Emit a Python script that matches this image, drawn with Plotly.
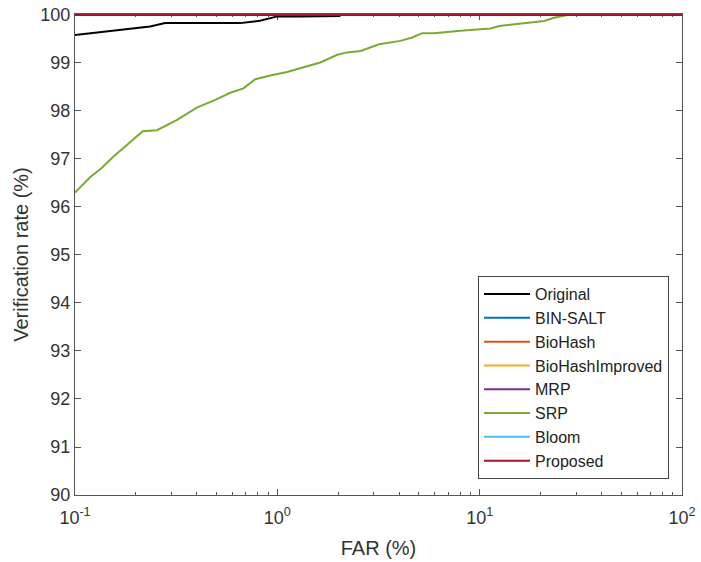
import plotly.graph_objects as go

# ---- data ----
far_original = [0.1, 0.15, 0.235, 0.279, 0.45, 0.656, 0.82, 1.0, 1.3, 2.05]
vr_original = [99.58, 99.66, 99.76, 99.83, 99.83, 99.83, 99.88, 99.97, 99.97, 99.98]

far_srp = [0.1, 0.1187, 0.1355, 0.155, 0.177, 0.216, 0.254, 0.318, 0.40, 0.50, 0.585, 0.68,
           0.778, 0.923, 1.117, 1.35, 1.63, 1.98, 2.21, 2.58, 3.18, 4.06, 4.64, 5.2, 5.94,
           8.05, 11.3, 12.5, 16.6, 20.8, 23.3, 27.2]
vr_srp = [96.30, 96.62, 96.81, 97.05, 97.26, 97.58, 97.60, 97.81, 98.07, 98.24, 98.38, 98.47,
          98.66, 98.74, 98.81, 98.91, 99.01, 99.17, 99.22, 99.25, 99.39, 99.46, 99.53, 99.62, 99.62,
          99.67, 99.72, 99.77, 99.83, 99.875, 99.94, 100.0]

far_flat = [0.1, 100]
vr_flat = [100, 100]

methods = ["Original", "BIN-SALT", "BioHash", "BioHashImproved", "MRP", "SRP", "Bloom", "Proposed"]
colors = ["#000000", "#0072BD", "#D95319", "#EDB120", "#7E2F8E", "#77AC30", "#4DBEEE", "#A2142F"]

x_tickvals = [0.1, 1, 10, 100]
x_ticktext = ["10<sup>-1</sup>", "10<sup>0</sup>", "10<sup>1</sup>", "10<sup>2</sup>"]
x_minor_vals = [m * d for d in (0.1, 1, 10) for m in range(2, 10)]
y_tickvals = list(range(90, 101))

series = {
    "Original": (far_original, vr_original),
    "SRP": (far_srp, vr_srp),
}

fig = go.Figure()
for name, col in zip(methods, colors):
    xs, ys = series.get(name, (far_flat, vr_flat))
    fig.add_trace(go.Scatter(x=xs, y=ys, mode="lines", name=name,
                             line=dict(color=col, width=2)))

axis_col = "#555555"
font_fam = "Liberation Sans, Arial, sans-serif"

fig.update_layout(
    width=701, height=562,
    margin=dict(l=75, r=19, t=14, b=67, autoexpand=False),
    paper_bgcolor="white", plot_bgcolor="white",
    font=dict(family=font_fam, color="#333333", size=18),
    showlegend=True,
    legend=dict(x=0.9786, y=0.033, xanchor="right", yanchor="bottom",
                bgcolor="white", bordercolor="#444444", borderwidth=1,
                font=dict(size=16, color="#222222"), tracegroupgap=0,
                traceorder="normal", itemwidth=46),
)

fig.update_xaxes(
    type="log", range=[-1, 2], automargin=False, layer="below traces",
    tickvals=x_tickvals, ticktext=x_ticktext,
    ticks="inside", ticklen=6, tickcolor=axis_col,
    minor=dict(tickvals=x_minor_vals, ticks="inside", ticklen=3, tickcolor=axis_col, showgrid=False),
    showline=True, linecolor=axis_col, linewidth=1, mirror="ticks",
    showgrid=False, zeroline=False,
    ticklabelstandoff=6,
    tickfont=dict(size=18, color="#333333"),
    title=dict(text="FAR (%)", font=dict(size=20, color="#333333"), standoff=14),
)
fig.update_yaxes(
    range=[90, 100.02], automargin=False, layer="below traces",
    tickvals=y_tickvals,
    ticks="inside", ticklen=6, tickcolor=axis_col,
    showline=True, linecolor=axis_col, linewidth=1, mirror="ticks",
    showgrid=False, zeroline=False,
    tickfont=dict(size=18, color="#333333"),
    title=dict(text="Verification rate (%)", font=dict(size=20, color="#333333"), standoff=6),
)

fig.write_html("out.html")
